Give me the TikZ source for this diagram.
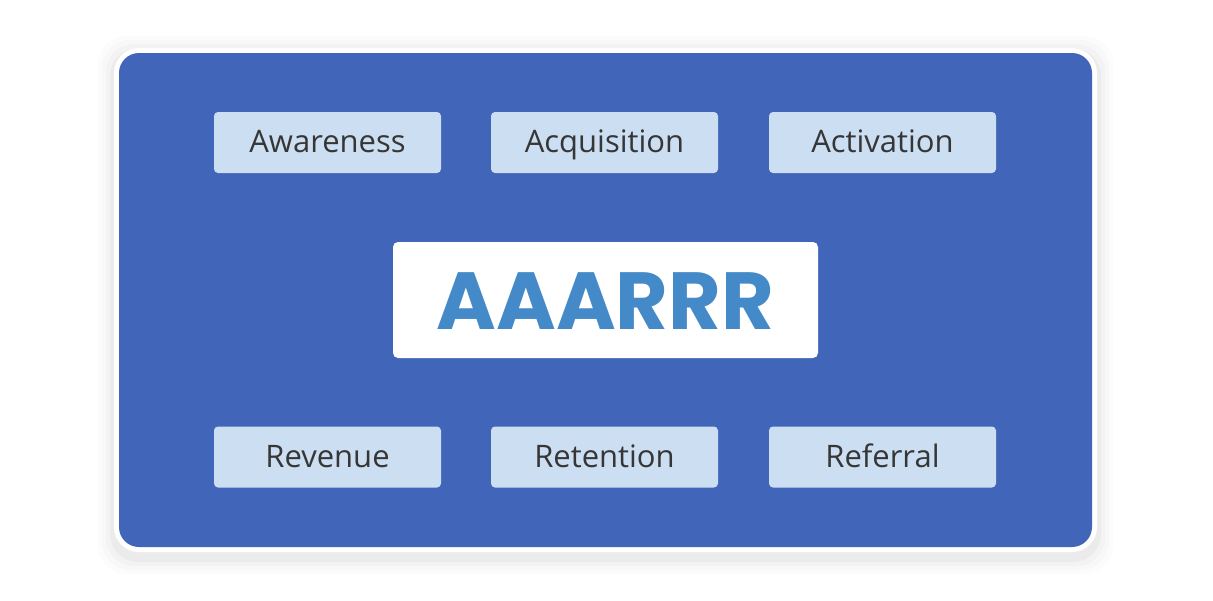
\documentclass[tikz,border=0pt]{standalone}
\usepackage{fontspec}
\setmainfont{Open Sans}
\newfontfamily\titlefont{Poppins}
\definecolor{panelblue}{HTML}{4165B8}
\definecolor{stagebox}{HTML}{CCDEF2}
\definecolor{stagetext}{HTML}{363636}
\definecolor{titleblue}{HTML}{4489C8}
\tikzset{
  stage/.style={fill=stagebox, rounded corners=4pt, minimum width=227pt,
    minimum height=61pt, inner sep=0pt, text=stagetext,
    text height=22pt, text depth=2pt,
    font=\fontsize{31}{36}\selectfont},
  titlebox/.style={fill=white, rounded corners=5pt, minimum width=425pt,
    minimum height=116pt, inner sep=0pt, text=titleblue,
    text height=58pt, text depth=0pt,
    font=\titlefont\bfseries\fontsize{81}{90}\selectfont}
}
\begin{document}
\begin{tikzpicture}[x=1pt, y=-1pt]
  \useasboundingbox (0,0) rectangle (1213,600);
  % Shadow and panel
  \foreach \s/\o in {16/0.012, 12/0.015, 8/0.02, 4/0.03}
    \fill[black, opacity=\o, rounded corners=28pt]
      (114-\s,52-\s) rectangle (1097+\s,558+\s);
  \fill[white, rounded corners=25pt] (114,48) rectangle (1097,552);
  \fill[panelblue, rounded corners=20pt] (119,53) rectangle (1092,547);

  % Define nodes
  \node[stage] (awareness)   at (327.5,142.5) {Awareness};
  \node[stage] (acquisition) at (604.5,142.5) {Acquisition};
  \node[stage] (activation)  at (882.5,142.5) {Activation};
  \node[titlebox] (aaarrr)   at (605.5,300) {AAARRR};
  \node[stage] (revenue)     at (327.5,457) {Revenue};
  \node[stage] (retention)   at (604.5,457) {Retention};
  \node[stage] (referral)    at (882.5,457) {Referral};
\end{tikzpicture}
\end{document}
